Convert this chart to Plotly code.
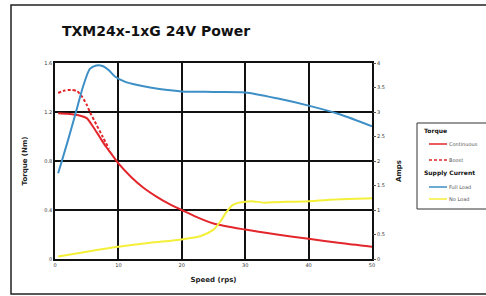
import plotly.graph_objects as go

speed_cont = [0.5, 2, 4, 5, 6, 7, 8, 9, 10, 12, 14, 16, 18, 20, 22, 25, 30, 35, 40, 45, 50]
torque_cont = [1.19, 1.185, 1.17, 1.15, 1.08, 1.0, 0.92, 0.85, 0.78, 0.67, 0.58, 0.51, 0.45, 0.40, 0.35, 0.29, 0.24, 0.20, 0.165, 0.13, 0.10]

speed_boost = [0.5, 1.5, 2.5, 3.5, 4.2, 5, 5.5, 6.5, 7.5, 8.5]
torque_boost = [1.355, 1.375, 1.38, 1.37, 1.33, 1.26, 1.2, 1.1, 1.0, 0.9]

speed_full = [0.5, 2, 3.2, 4.5, 5.5, 6.5, 7.5, 8.5, 9.5, 11, 13, 15, 20, 25, 30, 35, 40, 45, 50]
amps_full = [1.75, 2.4, 2.95, 3.55, 3.88, 3.95, 3.94, 3.85, 3.72, 3.62, 3.55, 3.5, 3.42, 3.41, 3.40, 3.28, 3.13, 2.95, 2.71]

speed_noload = [0.5, 5, 10, 15, 20, 23, 25, 26, 27, 28, 29, 30, 31, 33, 35, 40, 45, 50]
amps_noload = [0.05, 0.15, 0.25, 0.33, 0.40, 0.47, 0.6, 0.75, 0.95, 1.1, 1.15, 1.17, 1.18, 1.15, 1.16, 1.18, 1.22, 1.24]

left_ticks = [0, 0.4, 0.8, 1.2, 1.6]
left_labels = ["0", "0.4", "0.8", "1.2", "1.6"]
right_ticks = [0, 0.5, 1, 1.5, 2, 2.5, 3, 3.5, 4]
right_labels = ["0", "0.5", "1", "1.5", "2", "2.5", "3", "3.5", "4"]
x_ticks = [0, 10, 20, 30, 40, 50]

legend_groups = ["Torque", "Supply Current"]
legend_items = ["Continuous", "Boost", "Full Load", "No Load"]

RED = "#e3262b"
BLUE = "#3d8fc6"
YELLOW = "#f4f03a"
FONT = "DejaVu Sans"

fig = go.Figure()
fig.add_trace(go.Scatter(x=speed_cont, y=torque_cont, mode="lines", name=legend_items[0],
                         line=dict(color=RED, width=2, shape="spline", smoothing=0.7)))
fig.add_trace(go.Scatter(x=speed_boost, y=torque_boost, mode="lines", name=legend_items[1],
                         line=dict(color=RED, width=2, dash="3px,2px", shape="spline", smoothing=0.6)))
fig.add_trace(go.Scatter(x=speed_full, y=amps_full, mode="lines", name=legend_items[2],
                         line=dict(color=BLUE, width=2, shape="spline", smoothing=0.7), yaxis="y2"))
fig.add_trace(go.Scatter(x=speed_noload, y=amps_noload, mode="lines", name=legend_items[3],
                         line=dict(color=YELLOW, width=2, shape="spline", smoothing=0.7), yaxis="y2"))

L, R, T, B = 55, 114, 63, 37
W, H = 486, 296
pw = W - L - R
ph = H - T - B

def px(x):
    return (x - L) / pw

def py(y):
    return 1 - (y - T) / ph

shapes = [
    dict(type="rect", xref="paper", yref="paper", x0=px(11), x1=px(492), y0=py(294), y1=py(5),
         line=dict(color="#222", width=1.5), layer="above"),
    dict(type="rect", xref="paper", yref="paper", x0=px(417), x1=px(492), y0=py(209), y1=py(123),
         line=dict(color="#333", width=1), fillcolor="white", layer="above"),
]
annotations = [
    dict(text="<b>Amps</b>", xref="paper", yref="paper", x=px(399), y=py(171), textangle=-90,
         showarrow=False, font=dict(size=7, color="#222"), xanchor="center", yanchor="middle"),
]

# compact legend
entry_y = [144, 160, 187, 199]
entry_style = [dict(color=RED, width=1.5), dict(color=RED, width=1.5, dash="3px,2px"),
               dict(color=BLUE, width=1.5), dict(color=YELLOW, width=1.5)]
for name, yy, st in zip(legend_items, entry_y, entry_style):
    shapes.append(dict(type="line", xref="paper", yref="paper", x0=px(429), x1=px(447),
                       y0=py(yy), y1=py(yy), line=st, layer="above"))
    annotations.append(dict(text=name, xref="paper", yref="paper", x=px(447), y=py(yy),
                            xanchor="left", yanchor="middle", showarrow=False,
                            font=dict(size=5, color="#555")))
for name, yy in zip(legend_groups, [131, 173]):
    annotations.append(dict(text="<b>" + name + "</b>", xref="paper", yref="paper", x=px(422), y=py(yy),
                            xanchor="left", yanchor="middle", showarrow=False,
                            font=dict(size=6, color="#111")))

fig.update_layout(
    width=W, height=H,
    showlegend=False,
    margin=dict(l=L, r=R, t=T, b=B, autoexpand=False),
    paper_bgcolor="white", plot_bgcolor="white",
    font=dict(family=FONT, size=5, color="#333"),
    title=dict(text="<b>TXM24x-1xG 24V Power</b>", xref="container", yref="container",
               x=62 / W, xanchor="left", y=1 - 31 / H, yanchor="middle",
               font=dict(size=14, color="#111", family=FONT)),
    xaxis=dict(range=[0, 50], tickvals=x_ticks, showgrid=True, gridcolor="#111", gridwidth=1.5,
               showline=True, linecolor="#111", linewidth=1.5, mirror=True, zeroline=False,
               ticks="", tickfont=dict(size=5),
               title=dict(text="<b>Speed (rps)</b>", font=dict(size=7, color="#222"), standoff=10)),
    yaxis=dict(range=[0, 1.6], tickvals=left_ticks, ticktext=left_labels, showgrid=True,
               gridcolor="#111", gridwidth=1.5, showline=True, linecolor="#111", linewidth=1.5,
               mirror=True, zeroline=False, ticks="", tickfont=dict(size=5),
               title=dict(text="<b>Torque (Nm)</b>", font=dict(size=7, color="#222"), standoff=16)),
    yaxis2=dict(range=[0, 4], tickvals=right_ticks, ticktext=right_labels, overlaying="y",
                side="right", showgrid=False, zeroline=False, ticks="outside", ticklen=3,
                tickcolor="#555", tickfont=dict(size=5)),
    shapes=shapes,
    annotations=annotations,
)

fig.write_html("out.html", config={"displayModeBar": False},
               post_script="document.body.style.margin='0';document.body.style.padding='0';document.body.style.overflow='hidden';")
